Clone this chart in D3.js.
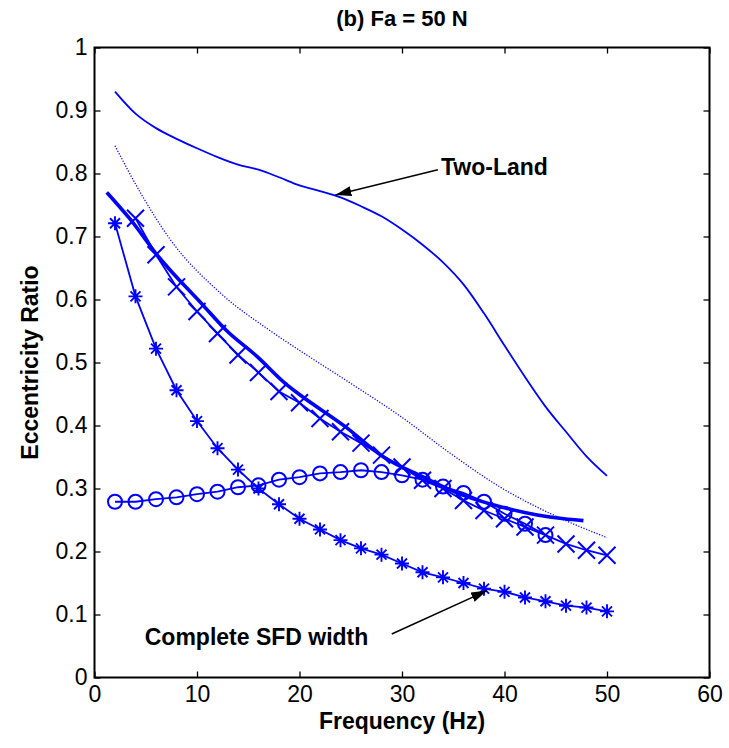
<!DOCTYPE html>
<html>
<head>
<meta charset="utf-8">
<script src="https://d3js.org/d3.v7.min.js"></script>
<style>
body { margin: 0; background: #fff; }
text { font-family: "Liberation Sans", Arial, sans-serif; }
</style>
</head>
<body>
<script>
// values, frequency in Hz
var freqTwoLand = [2,4,6,8,10,12,14,16,18,20,22,24,26,28,30,32,34,36,38,40,42,44,46,48,50];
var twoLand = [0.930,0.895,0.872,0.855,0.840,0.826,0.814,0.806,0.794,0.781,0.772,0.762,0.748,0.732,0.711,0.687,0.659,0.624,0.578,0.527,0.477,0.430,0.390,0.351,0.320];

var freqDotted = [2,4.5,7.4,12.3,17,20.5,24.7,29.9,34.7,39.6,44.5,50];
var dotted = [0.844,0.769,0.695,0.610,0.552,0.514,0.470,0.414,0.356,0.302,0.260,0.222];

var freqThick = [1.2,3.5,6.1,10.7,12.8,15.9,18.6,20.1,24.4,28.2,32.1,36,39.6,43.2,45.8,47.7];
var thick = [0.770,0.727,0.671,0.589,0.552,0.509,0.467,0.448,0.399,0.350,0.318,0.289,0.271,0.258,0.252,0.249];

var freqCross = [4,6,8,10,12,14,16,18,20,22,24,26,28,30,32,34,36,38,40,42,44,46,48,50];
var cross = [0.729,0.671,0.620,0.581,0.546,0.512,0.484,0.454,0.436,0.411,0.390,0.372,0.353,0.334,0.313,0.300,0.281,0.265,0.252,0.239,0.226,0.212,0.202,0.194];

var freqCircle = [2,4,6,8,10,12,14,16,18,20,22,24,26,28,30,32,34,36,38,40,42,44];
var circle = [0.279,0.279,0.283,0.286,0.291,0.295,0.302,0.305,0.314,0.318,0.324,0.326,0.329,0.326,0.321,0.314,0.303,0.293,0.279,0.260,0.244,0.226];

var freqStar = [2,4,6,8,10,12,14,16,18,20,22,24,26,28,30,32,34,36,38,40,42,44,46,48,50];
var star = [0.721,0.605,0.522,0.456,0.407,0.364,0.330,0.300,0.275,0.252,0.235,0.218,0.205,0.195,0.181,0.167,0.159,0.150,0.141,0.136,0.127,0.121,0.114,0.111,0.105];

var xTicks = [0,10,20,30,40,50,60];
var yTicks = [0,0.1,0.2,0.3,0.4,0.5,0.6,0.7,0.8,0.9,1];

// annotations in data units: text anchor, arrow tail, arrow tip
var notes = [
  {label: "Two-Land", tx: 33.8, ty: 0.797, ax: 33.5, ay: 0.806, bx: 23.5, by: 0.766},
  {label: "Complete SFD width", tx: 4.9, ty: 0.051, ax: 29.0, ay: 0.069, bx: 38.3, by: 0.138}
];

var W = 729, H = 748;
var margin = {top: 47.5, right: 19.5, bottom: 70.5, left: 94.5};
var width = W - margin.left - margin.right,
    height = H - margin.top - margin.bottom;

var x = d3.scaleLinear().domain([0, 60]).range([0, width]);
var y = d3.scaleLinear().domain([0, 1]).range([height, 0]);

var svg = d3.select("body").append("svg")
    .attr("width", W)
    .attr("height", H);

var defs = svg.append("defs");
defs.append("marker")
    .attr("id", "arrow")
    .attr("markerUnits", "userSpaceOnUse")
    .attr("markerWidth", 18).attr("markerHeight", 12)
    .attr("refX", 16).attr("refY", 5)
    .attr("orient", "auto")
  .append("path")
    .attr("d", "M0,0L16,5L0,10Z")
    .attr("fill", "#000");

var g = svg.append("g")
    .attr("transform", "translate(" + margin.left + "," + margin.top + ")");

// axes with inward ticks
var fmtY = function(d) { return d === 0 ? "0" : d === 1 ? "1" : d3.format(".1f")(d); };

var ax = g.append("g").attr("transform", "translate(0," + height + ")")
    .call(d3.axisBottom(x).tickValues(xTicks).tickSizeInner(-6).tickSizeOuter(0).tickPadding(8));
var ay = g.append("g")
    .call(d3.axisLeft(y).tickValues(yTicks).tickFormat(fmtY).tickSizeInner(-6).tickSizeOuter(0).tickPadding(7));
var at = g.append("g")
    .call(d3.axisTop(x).tickValues(xTicks).tickFormat("").tickSizeInner(-6).tickSizeOuter(0));
var ar = g.append("g").attr("transform", "translate(" + width + ",0)")
    .call(d3.axisRight(y).tickValues(yTicks).tickFormat("").tickSizeInner(-6).tickSizeOuter(0));

[ax, ay, at, ar].forEach(function(a) {
  a.select(".domain").remove();
  a.selectAll(".tick line").attr("stroke", "#000").attr("stroke-width", 1.3);
  a.selectAll(".tick text").attr("fill", "#000")
    .style("font-size", "23px")
    .style("font-family", "'Liberation Sans', Arial, sans-serif");
});

g.append("rect")
    .attr("width", width).attr("height", height)
    .attr("fill", "none").attr("stroke", "#000").attr("stroke-width", 2);

function pairs(fs, vs) { return fs.map(function(f, i) { return [f, vs[i]]; }); }

var smooth = d3.line()
    .x(function(d) { return x(d[0]); })
    .y(function(d) { return y(d[1]); })
    .curve(d3.curveMonotoneX);
var straight = d3.line()
    .x(function(d) { return x(d[0]); })
    .y(function(d) { return y(d[1]); });

var blue = "#0000ff";

g.append("path").attr("d", smooth(pairs(freqTwoLand, twoLand)))
    .attr("fill", "none").attr("stroke", blue).attr("stroke-width", 1.8);
g.append("path").attr("d", smooth(pairs(freqDotted, dotted)))
    .attr("fill", "none").attr("stroke", blue).attr("stroke-width", 1.3)
    .attr("stroke-dasharray", "1.2,1.6");
g.append("path").attr("d", smooth(pairs(freqThick, thick)))
    .attr("fill", "none").attr("stroke", blue).attr("stroke-width", 3.6);

var crossData = pairs(freqCross, cross);
g.append("path").attr("d", straight(crossData))
    .attr("fill", "none").attr("stroke", blue).attr("stroke-width", 1.8);
g.selectAll(".xm").data(crossData).enter().append("path")
    .attr("class", "xm")
    .attr("transform", function(d) { return "translate(" + x(d[0]) + "," + y(d[1]) + ")"; })
    .attr("d", "M-8.5,-8.5L8.5,8.5M-8.5,8.5L8.5,-8.5")
    .attr("stroke", blue).attr("stroke-width", 2);

var circData = pairs(freqCircle, circle);
g.append("path").attr("d", straight(circData))
    .attr("fill", "none").attr("stroke", blue).attr("stroke-width", 1.8);
g.selectAll(".cm").data(circData).enter().append("circle")
    .attr("class", "cm")
    .attr("cx", function(d) { return x(d[0]); })
    .attr("cy", function(d) { return y(d[1]); })
    .attr("r", 7)
    .attr("fill", "none").attr("stroke", blue).attr("stroke-width", 2);

var starData = pairs(freqStar, star);
g.append("path").attr("d", straight(starData))
    .attr("fill", "none").attr("stroke", blue).attr("stroke-width", 1.8);
g.selectAll(".sm").data(starData).enter().append("path")
    .attr("class", "sm")
    .attr("transform", function(d) { return "translate(" + x(d[0]) + "," + y(d[1]) + ")"; })
    .attr("d", "M-7,0L7,0M0,-7L0,7M-5,-5L5,5M-5,5L5,-5")
    .attr("stroke", blue).attr("stroke-width", 1.9);

// annotations
notes.forEach(function(n) {
  g.append("line")
      .attr("x1", x(n.ax)).attr("y1", y(n.ay))
      .attr("x2", x(n.bx)).attr("y2", y(n.by))
      .attr("stroke", "#000").attr("stroke-width", 1.5)
      .attr("marker-end", "url(#arrow)");
  g.append("text")
      .attr("x", x(n.tx)).attr("y", y(n.ty))
      .attr("font-size", 23).attr("font-weight", "bold")
      .text(n.label);
});

// titles
svg.append("text")
    .attr("x", margin.left + width / 2).attr("y", 26)
    .attr("text-anchor", "middle")
    .attr("font-size", 22).attr("font-weight", "bold")
    .text("(b) Fa = 50 N");

svg.append("text")
    .attr("x", margin.left + width / 2).attr("y", 729)
    .attr("text-anchor", "middle")
    .attr("font-size", 23).attr("font-weight", "bold")
    .text("Frequency (Hz)");

svg.append("text")
    .attr("transform", "translate(38," + (margin.top + height / 2) + ") rotate(-90)")
    .attr("text-anchor", "middle")
    .attr("font-size", 23).attr("font-weight", "bold")
    .text("Eccentricity Ratio");
</script>
</body>
</html>
